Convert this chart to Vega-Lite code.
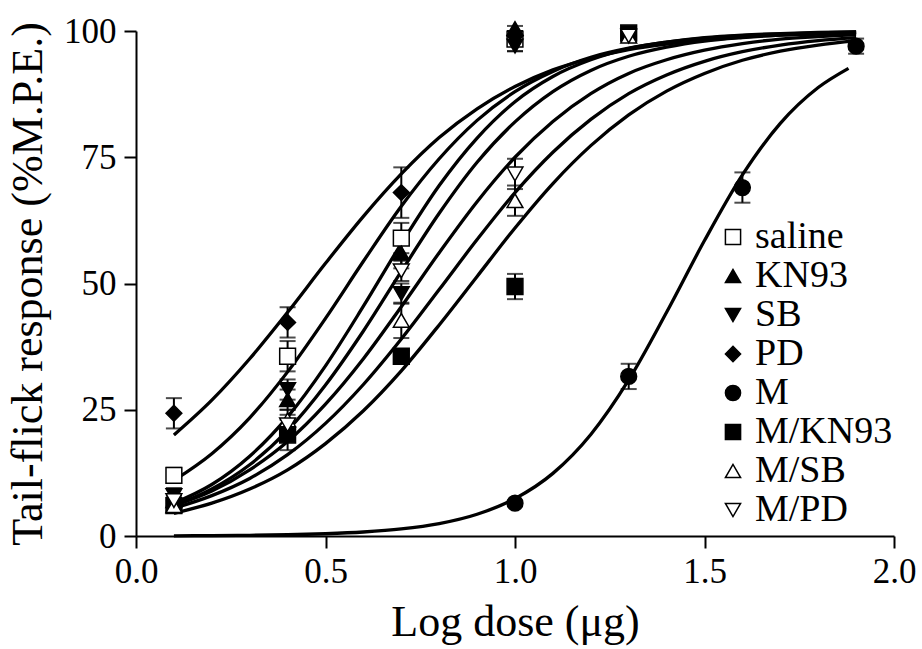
{
  "$schema": "https://vega.github.io/schema/vega-lite/v6.json",
  "width": 758,
  "height": 505,
  "autosize": {"type": "none"},
  "padding": {"left": 136, "top": 31, "right": 28, "bottom": 113},
  "background": "white",
  "config": {
    "view": {"stroke": null},
    "font": "Liberation Serif",
    "axis": {
      "domainColor": "black", "domainWidth": 2, "tickColor": "black", "tickWidth": 2, "tickSize": 12,
      "labelFont": "Liberation Serif", "labelFontSize": 35, "labelColor": "black",
      "titleFont": "Liberation Serif", "titleFontSize": 44, "titleFontWeight": "normal", "titleColor": "black",
      "grid": false, "labelFlush": false, "labelOverlap": false
    },
    "legend": {
      "orient": "none", "legendX": 578, "legendY": 187, "labelFont": "Liberation Serif", "labelFontSize": 38,
      "labelColor": "black", "symbolSize": 230, "rowPadding": 1, "padding": 0, "labelOffset": 3,
      "symbolStrokeColor": "black", "symbolStrokeWidth": 1.5
    }
  },
  "datasets": {
    "curves": [
      {"series": "PD", "x": 0.1, "y": 20.0}, {"series": "PD", "x": 0.2, "y": 26.9}, {"series": "PD", "x": 0.3, "y": 35.1}, {"series": "PD", "x": 0.4, "y": 44.3}, {"series": "PD", "x": 0.5, "y": 54.0}, {"series": "PD", "x": 0.6, "y": 63.3}, {"series": "PD", "x": 0.7, "y": 71.7}, {"series": "PD", "x": 0.8, "y": 78.9}, {"series": "PD", "x": 0.9, "y": 84.6}, {"series": "PD", "x": 1.0, "y": 89.0}, {"series": "PD", "x": 1.1, "y": 92.3}, {"series": "PD", "x": 1.2, "y": 94.6}, {"series": "PD", "x": 1.3, "y": 96.3}, {"series": "PD", "x": 1.4, "y": 97.4}, {"series": "PD", "x": 1.5, "y": 98.2}, {"series": "PD", "x": 1.6, "y": 98.8}, {"series": "PD", "x": 1.7, "y": 99.2}, {"series": "PD", "x": 1.8, "y": 99.4}, {"series": "PD", "x": 1.9, "y": 99.6},
      {"series": "saline", "x": 0.1, "y": 11.0}, {"series": "saline", "x": 0.2, "y": 16.3}, {"series": "saline", "x": 0.3, "y": 23.4}, {"series": "saline", "x": 0.4, "y": 32.5}, {"series": "saline", "x": 0.5, "y": 43.1}, {"series": "saline", "x": 0.6, "y": 54.4}, {"series": "saline", "x": 0.7, "y": 65.3}, {"series": "saline", "x": 0.8, "y": 74.7}, {"series": "saline", "x": 0.9, "y": 82.3}, {"series": "saline", "x": 1.0, "y": 88.0}, {"series": "saline", "x": 1.1, "y": 92.0}, {"series": "saline", "x": 1.2, "y": 94.8}, {"series": "saline", "x": 1.3, "y": 96.6}, {"series": "saline", "x": 1.4, "y": 97.8}, {"series": "saline", "x": 1.5, "y": 98.6}, {"series": "saline", "x": 1.6, "y": 99.1}, {"series": "saline", "x": 1.7, "y": 99.4}, {"series": "saline", "x": 1.8, "y": 99.6}, {"series": "saline", "x": 1.9, "y": 99.8},
      {"series": "KN93", "x": 0.1, "y": 6.5}, {"series": "KN93", "x": 0.2, "y": 10.2}, {"series": "KN93", "x": 0.3, "y": 15.8}, {"series": "KN93", "x": 0.4, "y": 23.6}, {"series": "KN93", "x": 0.5, "y": 33.7}, {"series": "KN93", "x": 0.6, "y": 45.5}, {"series": "KN93", "x": 0.7, "y": 57.9}, {"series": "KN93", "x": 0.8, "y": 69.4}, {"series": "KN93", "x": 0.9, "y": 78.8}, {"series": "KN93", "x": 1.0, "y": 86.0}, {"series": "KN93", "x": 1.1, "y": 91.0}, {"series": "KN93", "x": 1.2, "y": 94.3}, {"series": "KN93", "x": 1.3, "y": 96.5}, {"series": "KN93", "x": 1.4, "y": 97.8}, {"series": "KN93", "x": 1.5, "y": 98.7}, {"series": "KN93", "x": 1.6, "y": 99.2}, {"series": "KN93", "x": 1.7, "y": 99.5}, {"series": "KN93", "x": 1.8, "y": 99.7}, {"series": "KN93", "x": 1.9, "y": 99.8},
      {"series": "SB", "x": 0.1, "y": 6.0}, {"series": "SB", "x": 0.2, "y": 9.3}, {"series": "SB", "x": 0.3, "y": 14.1}, {"series": "SB", "x": 0.4, "y": 20.9}, {"series": "SB", "x": 0.5, "y": 29.9}, {"series": "SB", "x": 0.6, "y": 40.6}, {"series": "SB", "x": 0.7, "y": 52.4}, {"series": "SB", "x": 0.8, "y": 63.9}, {"series": "SB", "x": 0.9, "y": 74.0}, {"series": "SB", "x": 1.0, "y": 82.0}, {"series": "SB", "x": 1.1, "y": 88.0}, {"series": "SB", "x": 1.2, "y": 92.2}, {"series": "SB", "x": 1.3, "y": 95.0}, {"series": "SB", "x": 1.4, "y": 96.8}, {"series": "SB", "x": 1.5, "y": 98.0}, {"series": "SB", "x": 1.6, "y": 98.7}, {"series": "SB", "x": 1.7, "y": 99.2}, {"series": "SB", "x": 1.8, "y": 99.5}, {"series": "SB", "x": 1.9, "y": 99.7},
      {"series": "M/PD", "x": 0.1, "y": 6.0}, {"series": "M/PD", "x": 0.2, "y": 8.9}, {"series": "M/PD", "x": 0.3, "y": 13.1}, {"series": "M/PD", "x": 0.4, "y": 18.7}, {"series": "M/PD", "x": 0.5, "y": 26.1}, {"series": "M/PD", "x": 0.6, "y": 35.1}, {"series": "M/PD", "x": 0.7, "y": 45.4}, {"series": "M/PD", "x": 0.8, "y": 56.1}, {"series": "M/PD", "x": 0.9, "y": 66.2}, {"series": "M/PD", "x": 1.0, "y": 75.0}, {"series": "M/PD", "x": 1.1, "y": 82.1}, {"series": "M/PD", "x": 1.2, "y": 87.6}, {"series": "M/PD", "x": 1.3, "y": 91.6}, {"series": "M/PD", "x": 1.4, "y": 94.3}, {"series": "M/PD", "x": 1.5, "y": 96.2}, {"series": "M/PD", "x": 1.6, "y": 97.5}, {"series": "M/PD", "x": 1.7, "y": 98.4}, {"series": "M/PD", "x": 1.8, "y": 98.9}, {"series": "M/PD", "x": 1.9, "y": 99.3},
      {"series": "M/SB", "x": 0.1, "y": 5.5}, {"series": "M/SB", "x": 0.2, "y": 8.0}, {"series": "M/SB", "x": 0.3, "y": 11.4}, {"series": "M/SB", "x": 0.4, "y": 16.1}, {"series": "M/SB", "x": 0.5, "y": 22.3}, {"series": "M/SB", "x": 0.6, "y": 30.0}, {"series": "M/SB", "x": 0.7, "y": 39.0}, {"series": "M/SB", "x": 0.8, "y": 48.8}, {"series": "M/SB", "x": 0.9, "y": 58.7}, {"series": "M/SB", "x": 1.0, "y": 68.0}, {"series": "M/SB", "x": 1.1, "y": 76.0}, {"series": "M/SB", "x": 1.2, "y": 82.5}, {"series": "M/SB", "x": 1.3, "y": 87.6}, {"series": "M/SB", "x": 1.4, "y": 91.3}, {"series": "M/SB", "x": 1.5, "y": 94.0}, {"series": "M/SB", "x": 1.6, "y": 95.9}, {"series": "M/SB", "x": 1.7, "y": 97.2}, {"series": "M/SB", "x": 1.8, "y": 98.1}, {"series": "M/SB", "x": 1.9, "y": 98.7},
      {"series": "M/KN93", "x": 0.1, "y": 4.5}, {"series": "M/KN93", "x": 0.2, "y": 6.5}, {"series": "M/KN93", "x": 0.3, "y": 9.3}, {"series": "M/KN93", "x": 0.4, "y": 13.1}, {"series": "M/KN93", "x": 0.5, "y": 18.3}, {"series": "M/KN93", "x": 0.6, "y": 24.8}, {"series": "M/KN93", "x": 0.7, "y": 32.7}, {"series": "M/KN93", "x": 0.8, "y": 41.8}, {"series": "M/KN93", "x": 0.9, "y": 51.4}, {"series": "M/KN93", "x": 1.0, "y": 61.0}, {"series": "M/KN93", "x": 1.1, "y": 69.8}, {"series": "M/KN93", "x": 1.2, "y": 77.3}, {"series": "M/KN93", "x": 1.3, "y": 83.4}, {"series": "M/KN93", "x": 1.4, "y": 88.1}, {"series": "M/KN93", "x": 1.5, "y": 91.6}, {"series": "M/KN93", "x": 1.6, "y": 94.2}, {"series": "M/KN93", "x": 1.7, "y": 96.0}, {"series": "M/KN93", "x": 1.8, "y": 97.2}, {"series": "M/KN93", "x": 1.9, "y": 98.1},
      {"series": "M", "x": 0.1, "y": 0.04}, {"series": "M", "x": 0.2, "y": 0.08}, {"series": "M", "x": 0.3, "y": 0.14}, {"series": "M", "x": 0.4, "y": 0.25}, {"series": "M", "x": 0.5, "y": 0.45}, {"series": "M", "x": 0.6, "y": 0.79}, {"series": "M", "x": 0.7, "y": 1.39}, {"series": "M", "x": 0.8, "y": 2.45}, {"series": "M", "x": 0.9, "y": 4.3}, {"series": "M", "x": 1.0, "y": 7.4}, {"series": "M", "x": 1.1, "y": 12.4}, {"series": "M", "x": 1.2, "y": 20.1}, {"series": "M", "x": 1.3, "y": 30.9}, {"series": "M", "x": 1.4, "y": 44.3}, {"series": "M", "x": 1.5, "y": 58.5}, {"series": "M", "x": 1.6, "y": 71.5}, {"series": "M", "x": 1.7, "y": 81.7}, {"series": "M", "x": 1.8, "y": 88.8}, {"series": "M", "x": 1.88, "y": 92.6}
    ],
    "points": [
      {"series": "saline", "x": 0.1, "y": 12.0, "lo": 10.5, "hi": 13.5},
      {"series": "saline", "x": 0.4, "y": 35.6, "lo": 32.6, "hi": 38.6},
      {"series": "saline", "x": 0.7, "y": 59.0, "lo": 56.0, "hi": 62.0},
      {"series": "saline", "x": 1.0, "y": 98.4, "lo": 96.0, "hi": 100.0},
      {"series": "KN93", "x": 0.1, "y": 7.0, "lo": 6.0, "hi": 8.0},
      {"series": "KN93", "x": 0.4, "y": 27.0, "lo": 25.0, "hi": 29.0},
      {"series": "KN93", "x": 0.7, "y": 56.0, "lo": 53.0, "hi": 59.0},
      {"series": "KN93", "x": 1.0, "y": 100.5, "lo": 100.0, "hi": 101.0},
      {"series": "SB", "x": 0.1, "y": 8.0, "lo": 6.5, "hi": 9.5},
      {"series": "SB", "x": 0.4, "y": 29.0, "lo": 27.0, "hi": 31.0},
      {"series": "SB", "x": 0.7, "y": 48.0, "lo": 46.0, "hi": 50.0},
      {"series": "SB", "x": 1.0, "y": 97.0, "lo": 96.0, "hi": 98.0},
      {"series": "PD", "x": 0.1, "y": 24.3, "lo": 21.3, "hi": 27.3},
      {"series": "PD", "x": 0.4, "y": 42.3, "lo": 39.3, "hi": 45.3},
      {"series": "PD", "x": 0.7, "y": 68.0, "lo": 63.0, "hi": 73.0},
      {"series": "PD", "x": 1.0, "y": 99.0, "lo": 98.0, "hi": 100.0},
      {"series": "M", "x": 1.0, "y": 6.5, "lo": 6.0, "hi": 7.0},
      {"series": "M", "x": 1.3, "y": 31.6, "lo": 29.1, "hi": 34.1},
      {"series": "M", "x": 1.6, "y": 69.0, "lo": 66.0, "hi": 72.0},
      {"series": "M", "x": 1.9, "y": 97.0, "lo": 95.5, "hi": 98.5},
      {"series": "M/KN93", "x": 0.1, "y": 6.0, "lo": 5.0, "hi": 7.0},
      {"series": "M/KN93", "x": 0.4, "y": 20.0, "lo": 17.0, "hi": 23.0},
      {"series": "M/KN93", "x": 0.7, "y": 35.6, "lo": 34.6, "hi": 36.6},
      {"series": "M/KN93", "x": 1.0, "y": 49.4, "lo": 46.9, "hi": 51.9},
      {"series": "M/KN93", "x": 1.3, "y": 99.6, "lo": 98.6, "hi": 100.6},
      {"series": "M/SB", "x": 0.1, "y": 6.0, "lo": 5.0, "hi": 7.0},
      {"series": "M/SB", "x": 0.4, "y": 23.0, "lo": 21.0, "hi": 25.0},
      {"series": "M/SB", "x": 0.7, "y": 42.7, "lo": 39.2, "hi": 46.2},
      {"series": "M/SB", "x": 1.0, "y": 66.4, "lo": 63.4, "hi": 69.4},
      {"series": "M/SB", "x": 1.3, "y": 99.0, "lo": 98.0, "hi": 100.0},
      {"series": "M/PD", "x": 0.1, "y": 7.0, "lo": 6.0, "hi": 8.0},
      {"series": "M/PD", "x": 0.4, "y": 22.0, "lo": 20.0, "hi": 24.0},
      {"series": "M/PD", "x": 0.7, "y": 52.5, "lo": 50.5, "hi": 54.5},
      {"series": "M/PD", "x": 1.0, "y": 71.7, "lo": 68.7, "hi": 74.7},
      {"series": "M/PD", "x": 1.3, "y": 99.0, "lo": 98.0, "hi": 100.0}
    ]
  },
  "layer": [
    {
      "data": {"name": "curves"},
      "mark": {"type": "line", "color": "black", "strokeWidth": 3.3, "interpolate": "monotone"},
      "encoding": {
        "x": {"field": "x", "type": "quantitative", "scale": {"domain": [0, 2], "nice": false},
          "axis": {"title": "Log dose (μg)", "values": [0, 0.5, 1, 1.5, 2], "format": ".1f", "labelPadding": 6, "titleY": 99, "titleBaseline": "alphabetic"}},
        "y": {"field": "y", "type": "quantitative", "scale": {"domain": [0, 100], "nice": false},
          "axis": {"title": "Tail-flick response (%M.P.E.)", "values": [0, 25, 50, 75, 100], "labelPadding": 8, "titleX": -86, "titleBaseline": "bottom"}},
        "detail": {"field": "series"}
      }
    },
    {
      "data": {"name": "points"},
      "mark": {"type": "rule", "color": "black", "strokeWidth": 2},
      "encoding": {
        "x": {"field": "x", "type": "quantitative", "title": "Log dose (μg)"},
        "y": {"field": "lo", "type": "quantitative", "title": "Tail-flick response (%M.P.E.)"},
        "y2": {"field": "hi"}
      }
    },
    {
      "data": {"name": "points"},
      "transform": [{"fold": ["lo", "hi"], "as": ["end", "v"]}],
      "mark": {"type": "tick", "color": "black", "orient": "horizontal", "size": 16, "thickness": 2},
      "encoding": {
        "x": {"field": "x", "type": "quantitative", "title": "Log dose (μg)"},
        "y": {"field": "v", "type": "quantitative", "title": "Tail-flick response (%M.P.E.)"}
      }
    },
    {
      "data": {"name": "points"},
      "mark": {"type": "point", "filled": true, "strokeWidth": 1.5, "size": 250, "opacity": 1},
      "encoding": {
        "x": {"field": "x", "type": "quantitative", "title": "Log dose (μg)"},
        "y": {"field": "y", "type": "quantitative", "title": "Tail-flick response (%M.P.E.)"},
        "shape": {"field": "series", "type": "nominal", "title": null,
          "scale": {"domain": ["saline", "KN93", "SB", "PD", "M", "M/KN93", "M/SB", "M/PD"],
            "range": ["square", "triangle-up", "triangle-down", "diamond", "circle", "square", "triangle-up", "triangle-down"]}},
        "fill": {"field": "series", "type": "nominal", "title": null,
          "scale": {"domain": ["saline", "KN93", "SB", "PD", "M", "M/KN93", "M/SB", "M/PD"],
            "range": ["white", "black", "black", "black", "black", "black", "white", "white"]}},
        "stroke": {"field": "series", "type": "nominal", "title": null,
          "scale": {"domain": ["saline", "KN93", "SB", "PD", "M", "M/KN93", "M/SB", "M/PD"],
            "range": ["black", "black", "black", "black", "black", "black", "black", "black"]}}
      }
    }
  ]
}
